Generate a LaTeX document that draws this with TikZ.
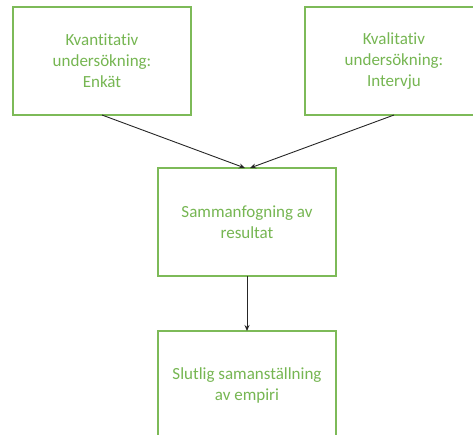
\documentclass[tikz,border=0pt]{standalone}
\usepackage{fontspec}
\setmainfont{Carlito}[Ligatures=NoCommon]
\usetikzlibrary{arrows.meta}
\definecolor{boxgreen}{RGB}{125,186,88}
\definecolor{txtgreen}{RGB}{118,182,82}
\tikzset{
  stepbox/.style={draw=boxgreen, line width=1.3pt, fill=white, minimum width=178pt, minimum height=108pt,
    inner sep=0pt, outer sep=0pt, align=center, text=txtgreen, font=\fontsize{17}{21}\selectfont},
  flow/.style={draw=black!85, line width=0.9pt, -{Stealth[length=6pt,width=5pt]}}
}
\begin{document}
\begin{tikzpicture}[x=1pt,y=-1pt]
\useasboundingbox (0,0) rectangle (473,434);
\clip (0,0) rectangle (473,434);
\node[stepbox] (kvan) at (102,61) {Kvantitativ\\undersökning:\\Enkät};
\node[stepbox] (kval) at (394,61) {Kvalitativ\\undersökning:\\Intervju};
\node[stepbox] (samm) at (247,222) {Sammanfogning av\\resultat};
\node[stepbox] (slut) at (247,385) {Slutlig samanställning\\av empiri};
\draw[flow] (kvan.south) -- ([xshift=-2pt]samm.north);
\draw[flow] (kval.south) -- ([xshift=3pt]samm.north);
\draw[flow] (samm.south) -- (slut.north);
\end{tikzpicture}
\end{document}
